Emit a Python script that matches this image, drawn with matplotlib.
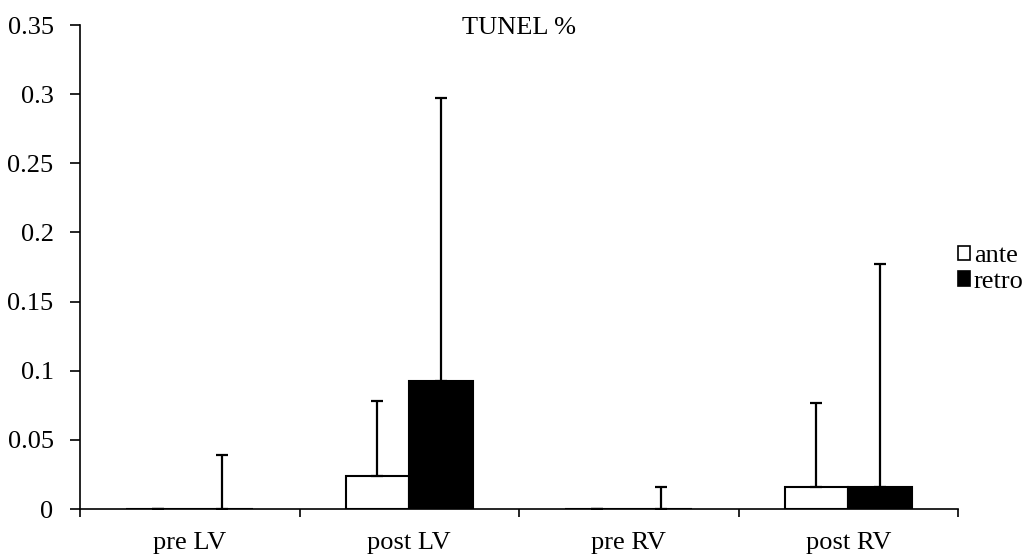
import numpy as np
import matplotlib.pyplot as plt
from matplotlib.patches import Patch

plt.rcParams['font.family'] = ['Liberation Serif', 'DejaVu Serif']

categories = ['pre LV', 'post LV', 'pre RV', 'post RV']
ante = [0.0, 0.024, 0.0, 0.016]
ante_err = [0.0, 0.054, 0.0, 0.061]
retro = [0.0, 0.0925, 0.0, 0.016]
retro_err = [0.039, 0.205, 0.016, 0.161]

fs = 19

fig = plt.figure(figsize=(10.32, 5.57), dpi=100)
ax = fig.add_axes([80/1032, 1-509/557, 878/1032, 484/557])

x = np.arange(len(categories))
w = 0.29

ax.bar(x - w/2, ante, w, color='white', edgecolor='black', linewidth=1.5, zorder=2)
ax.bar(x + w/2, retro, w, color='black', edgecolor='black', linewidth=1.5, zorder=2)
ax.errorbar(x - w/2, ante, yerr=[np.zeros(4), ante_err], fmt='none',
            ecolor='black', elinewidth=1.6, capsize=4.6, capthick=1.6, zorder=3)
ax.errorbar(x + w/2, retro, yerr=[np.zeros(4), retro_err], fmt='none',
            ecolor='black', elinewidth=1.6, capsize=4.6, capthick=1.6, zorder=3)

ax.set_xlim(-0.5, 3.5)
ax.set_ylim(0, 0.35)
ax.set_yticks(np.arange(0, 0.351, 0.05))
ax.set_yticklabels(['0', '0.05', '0.1', '0.15', '0.2', '0.25', '0.3', '0.35'])
ax.set_xticks(x)
ax.set_xticklabels(categories)
ax.set_xticks(np.arange(-0.5, 3.6, 1), minor=True)
ax.tick_params(axis='x', which='major', length=0, pad=16.5, labelsize=fs)
ax.tick_params(axis='x', which='minor', length=6, width=1.2, direction='out')
ax.tick_params(axis='y', length=7, width=1.2, direction='out', pad=12, labelsize=fs)

for s in ['top', 'right']:
    ax.spines[s].set_visible(False)
for s in ['left', 'bottom']:
    ax.spines[s].set_linewidth(1.2)

ax.text(0.5, 0.993, 'TUNEL %', transform=ax.transAxes, fontsize=fs,
        ha='center', va='center')

handles = [Patch(facecolor='white', edgecolor='black', linewidth=1.2),
           Patch(facecolor='black', edgecolor='black', linewidth=1.2)]
fig.legend(handles, ['ante', 'retro'], loc='upper left',
           bbox_to_anchor=(958/1032, 1-245/557), frameon=False, fontsize=fs,
           handlelength=0.45, handleheight=0.45, handletextpad=0.15,
           labelspacing=0.15, borderpad=0, borderaxespad=0)

fig.savefig('out.png', dpi=100)
